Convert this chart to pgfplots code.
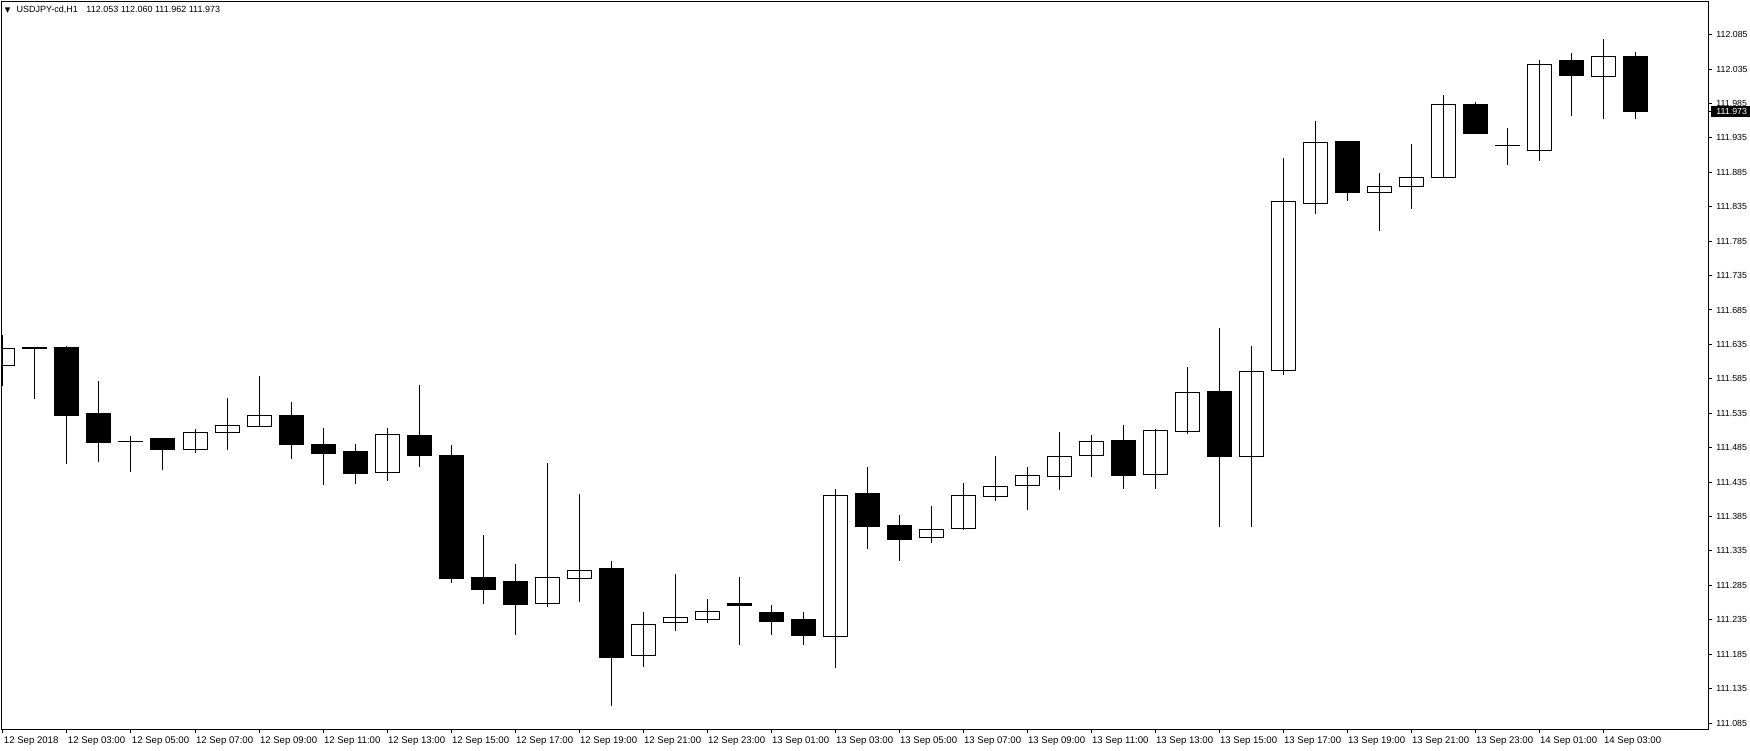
\documentclass[border=0pt]{standalone}
\usepackage{fontspec}
\setmainfont{Liberation Sans}
\newfontfamily\symfont{DejaVu Sans}
\usepackage{pgfplots}
\usepackage{pgfplotstable}
\pgfplotsset{compat=1.18}

% USDJPY H1 bars: t open high low close
\pgfplotstableread{
t o h l c
1 111.604 111.649 111.575 111.629
2 111.629 111.631 111.556 111.628
3 111.631 111.633 111.461 111.532
4 111.534 111.582 111.464 111.492
5 111.494 111.502 111.450 111.494
6 111.498 111.499 111.453 111.482
7 111.483 111.512 111.477 111.507
8 111.507 111.557 111.482 111.517
9 111.516 111.589 111.515 111.532
10 111.531 111.551 111.469 111.489
11 111.489 111.514 111.431 111.477
12 111.479 111.490 111.432 111.448
13 111.449 111.514 111.437 111.504
14 111.503 111.576 111.457 111.474
15 111.474 111.489 111.288 111.295
16 111.297 111.358 111.258 111.279
17 111.291 111.316 111.213 111.257
18 111.259 111.463 111.253 111.297
19 111.295 111.418 111.261 111.307
20 111.309 111.320 111.110 111.180
21 111.183 111.246 111.167 111.228
22 111.231 111.302 111.219 111.238
23 111.236 111.265 111.231 111.247
24 111.259 111.297 111.199 111.256
25 111.246 111.257 111.213 111.232
26 111.235 111.246 111.199 111.212
27 111.211 111.425 111.165 111.416
28 111.418 111.457 111.338 111.370
29 111.372 111.387 111.321 111.351
30 111.355 111.400 111.346 111.366
31 111.368 111.434 111.366 111.416
32 111.414 111.473 111.407 111.429
33 111.430 111.457 111.394 111.445
34 111.443 111.508 111.423 111.472
35 111.474 111.503 111.443 111.494
36 111.496 111.518 111.425 111.444
37 111.446 111.512 111.425 111.510
38 111.509 111.602 111.505 111.565
39 111.567 111.659 111.370 111.472
40 111.472 111.633 111.370 111.596
41 111.597 111.906 111.590 111.842
42 111.840 111.960 111.825 111.929
43 111.930 111.931 111.843 111.855
44 111.855 111.884 111.800 111.865
45 111.865 111.926 111.832 111.878
46 111.878 111.997 111.876 111.984
47 111.983 111.987 111.941 111.941
48 111.924 111.949 111.895 111.924
49 111.917 112.048 111.902 112.042
50 112.047 112.058 111.967 112.025
51 112.024 112.079 111.963 112.053
52 112.053 112.060 111.962 111.973
}\bars

\begin{document}
\begin{tikzpicture}
\fill[white] (0,0) rectangle (875pt,375pt);
\useasboundingbox (0,0) rectangle (875pt,375pt);
\begin{axis}[
    at={(1pt,10.5pt)}, anchor=south west,
    scale only axis, width=853pt, height=363.5pt,
    xmin=0.969, xmax=54.28,
    ymin=111.0763, ymax=112.1324,
    ybar stacked, bar width=12pt,
    axis line style={line width=0.5pt},
    tick align=outside, major tick length=2pt,
    tick style={black, line width=0.5pt},
    xtick pos=bottom, ytick pos=right, yticklabel pos=right,
    xtick={1,3,...,51},
    xticklabels={12 Sep 2018, 12 Sep 03:00, 12 Sep 05:00, 12 Sep 07:00, 12 Sep 09:00,
        12 Sep 11:00, 12 Sep 13:00, 12 Sep 15:00, 12 Sep 17:00, 12 Sep 19:00,
        12 Sep 21:00, 12 Sep 23:00, 13 Sep 01:00, 13 Sep 03:00, 13 Sep 05:00,
        13 Sep 07:00, 13 Sep 09:00, 13 Sep 11:00, 13 Sep 13:00, 13 Sep 15:00,
        13 Sep 17:00, 13 Sep 19:00, 13 Sep 21:00, 13 Sep 23:00, 14 Sep 01:00,
        14 Sep 03:00},
    xticklabel style={font=\fontsize{4.8pt}{5pt}\selectfont, anchor=north west,
        inner sep=0pt, xshift=0.3pt, yshift=-1.5pt},
    ytick={111.085,111.135,111.185,111.235,111.285,111.335,111.385,111.435,
        111.485,111.535,111.585,111.635,111.685,111.735,111.785,111.835,
        111.885,111.935,111.985,112.035,112.085},
    yticklabels={111.085,111.135,111.185,111.235,111.285,111.335,111.385,111.435,
        111.485,111.535,111.585,111.635,111.685,111.735,111.785,111.835,
        111.885,111.935,111.985,112.035,112.085},
    yticklabel style={font=\fontsize{4.4pt}{5pt}\selectfont, anchor=west,
        inner sep=0pt, xshift=2pt},
    extra y ticks={111.973},
    extra y tick labels={111.973},
    extra y tick style={yticklabel style={fill=black, text=white,
        inner xsep=2.5pt, inner ysep=1.1pt, xshift=-2.5pt}},
]
% invisible base up to the lower body edge; its error bars are the wicks
\addplot[draw=none, fill=none,
    error bars/.cd, y dir=both, y explicit, error mark=none,
    error bar style={draw=black, line width=0.5pt}]
    table[x=t, y expr={min(\thisrow{o},\thisrow{c})},
        y error plus expr={\thisrow{h}-min(\thisrow{o},\thisrow{c})},
        y error minus expr={min(\thisrow{o},\thisrow{c})-\thisrow{l}}] {\bars};
% rising bodies
\addplot[draw=black, fill=white, line width=0.5pt]
    table[x=t, y expr={max(\thisrow{c}-\thisrow{o},0)}] {\bars};
% falling bodies (a doji keeps a hairline body so it still shows)
\addplot[draw=black, fill=black, line width=0.5pt]
    table[x=t, y expr={\thisrow{o}>=\thisrow{c} ? max(\thisrow{o}-\thisrow{c},0.0005) : 0}] {\bars};
\node[anchor=west, inner sep=0pt, font=\fontsize{4.5pt}{5pt}\selectfont]
    at (rel axis cs:0,1) [xshift=1.2pt, yshift=-3.9pt]
    {{\symfont\fontsize{3.6pt}{4pt}\selectfont ▼}\hspace{3.2pt}USDJPY-cd,H1\hspace{3pt} 112.053 112.060 111.962 111.973};
\end{axis}
\end{tikzpicture}
\end{document}
